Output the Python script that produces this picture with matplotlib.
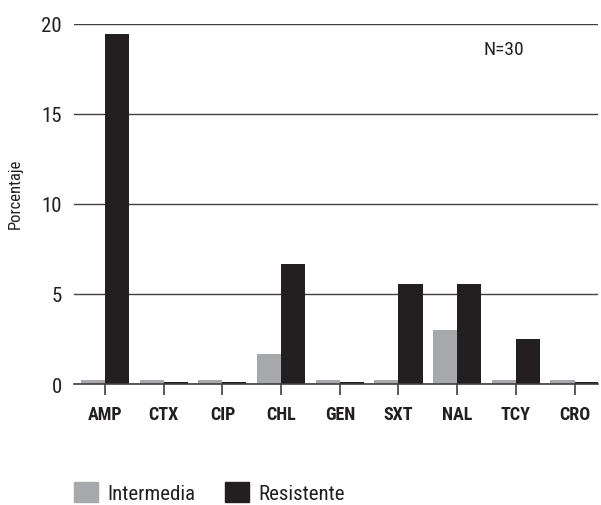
import matplotlib
matplotlib.use("Agg")
import matplotlib.pyplot as plt
import numpy as np
from matplotlib.patches import Patch

categories = ["AMP", "CTX", "CIP", "CHL", "GEN", "SXT", "NAL", "TCY", "CRO"]
intermedia = [0.2, 0.2, 0.2, 1.65, 0.2, 0.2, 3.0, 0.2, 0.2]
resistente = [19.44, 0.12, 0.12, 6.65, 0.12, 5.55, 5.55, 2.5, 0.12]
yticks = [0, 5, 10, 15, 20]

plt.rcParams['font.family'] = ['Roboto Condensed', 'Liberation Sans', 'DejaVu Sans']
gray = "#a7a8ab"
black = "#231f20"
text_c = "#231f20"

fig = plt.figure(figsize=(6.01, 5.06), dpi=100)
ax = fig.add_axes([0.123, 0.239, 0.872, 0.712])
x = np.arange(len(categories))
w = 0.41
ax.bar(x - w/2, intermedia, w, color=gray, zorder=3, label="Intermedia")
ax.bar(x + w/2, resistente, w, color=black, zorder=3, label="Resistente")

ax.set_xlim(-0.53, 8.4)
ax.set_ylim(0, 20)
ax.set_yticks(yticks)
ax.set_yticklabels([str(t) for t in yticks], fontsize=15, color=text_c)
ax.yaxis.grid(True, color="#404040", linewidth=1.0, zorder=1)
ax.tick_params(axis="y", length=0, pad=8.5)
ax.set_xticks(x)
ax.set_xticklabels(categories, fontsize=13, fontweight="bold", color=text_c)
ax.tick_params(axis="x", length=8, width=1.2, color="#404040", pad=7)
for s in ["top", "right", "left"]:
    ax.spines[s].set_visible(False)
ax.spines["bottom"].set_color("#404040")
ax.spines["bottom"].set_linewidth(1.2)
ax.spines["bottom"].set_zorder(4)
ax.set_ylabel("Porcentaje", fontsize=12, color=text_c)
ax.yaxis.set_label_coords(-0.097, 0.53)
ax.text(0.82, 0.93, "N=30", transform=ax.transAxes, fontsize=14, ha="center",
        va="center", color=text_c)

handles = [Patch(color=gray, label="Intermedia"), Patch(color=black, label="Resistente")]
fig.legend(handles=handles, loc="center left", bbox_to_anchor=(0.123, 0.024), ncol=2,
           frameon=False, fontsize=15, handlelength=1.15, handleheight=1.05,
           columnspacing=1.4, handletextpad=0.45, borderpad=0, borderaxespad=0,
           labelcolor=text_c)

fig.savefig("out.png", dpi=100)
